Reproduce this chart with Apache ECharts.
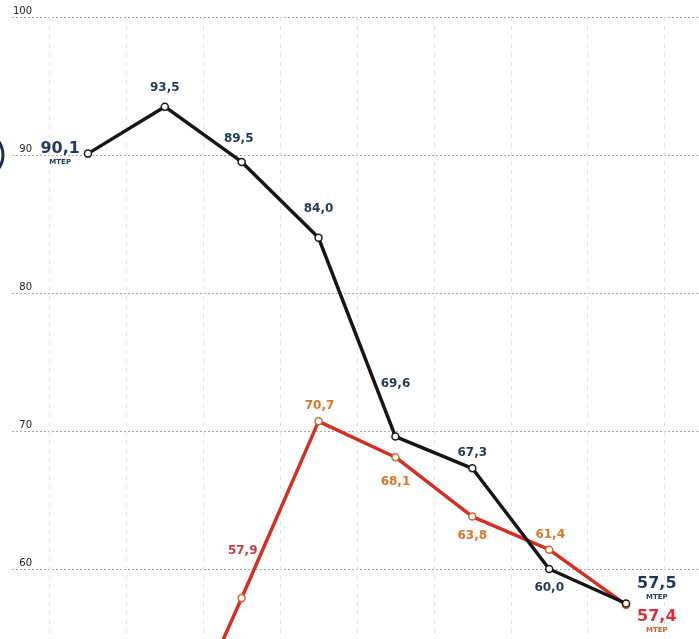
<!DOCTYPE html>
<html>
<head>
<meta charset="utf-8">
<script src="https://cdn.jsdelivr.net/npm/echarts@6/dist/echarts.min.js"></script>
<style>
html,body{margin:0;padding:0;background:#fff;}
#c{width:699px;height:639px;}
</style>
</head>
<body>
<div id="c"></div>
<script>
// ---- data ----
var categories = ['P1','P2','P3','P4','P5','P6','P7','P8'];
var blackValues = [90.1, 93.5, 89.5, 84.0, 69.6, 67.3, 60.0, 57.5];
var redValues   = [null, 45.4, 57.9, 70.7, 68.1, 63.8, 61.4, 57.4];
var yTicks = [40, 50, 60, 70, 80, 90, 100];
var unitText = 'MTEP';

// ---- label placement (style only) ----
var blackLabelPos = [
  {position:'left', distance:3, offset:[0,0], big:true},
  {position:'top', distance:9, offset:[0,0]},
  {position:'top', distance:13, offset:[-3,0]},
  {position:'top', distance:19, offset:[0,0]},
  {position:'top', distance:42, offset:[0,0]},
  {position:'top', distance:5, offset:[0,0]},
  {position:'bottom', distance:9, offset:[0,0]},
  {position:'right', distance:6, offset:[0,-15], big:true}
];
var redLabelPos = [
  null,
  null,
  {position:'top', distance:37, offset:[1,0], color:'#c83c48'},
  {position:'top', distance:5, offset:[1,0], color:'#d8762a'},
  {position:'bottom', distance:14, offset:[0,0], color:'#d8762a'},
  {position:'bottom', distance:9, offset:[0,0], color:'#d8762a'},
  {position:'top', distance:5, offset:[1,0], color:'#d8762a'},
  {position:'right', distance:6, offset:[0,17], big:true, color:'#d8323f'}
];

function fmt(v){ return v.toFixed(1).replace('.', ','); }

var FONT = 'DejaVu Sans';

function buildData(values, posArr, baseColor, unitColor){
  return values.map(function(v, i){
    if (v === null) return null;
    var p = posArr[i];
    if (!p) return {value: v, label: {show: false}};
    var col = p.color || baseColor;
    var lbl = {
      show: true,
      position: p.position,
      distance: p.distance,
      offset: p.offset,
      fontFamily: FONT
    };
    if (p.big) {
      lbl.formatter = '{n|' + fmt(v) + '}\n{u|' + unitText + '}';
      lbl.rich = {
        n: {fontSize: 16, fontWeight: 'bold', color: col, fontFamily: FONT, lineHeight: 17,
            width: 41, align: 'center'},
        u: {fontSize: 7, fontWeight: 'bold', color: unitColor || col, fontFamily: FONT, lineHeight: 10,
            width: 41, align: 'center'}
      };
    } else {
      lbl.formatter = fmt(v);
      lbl.fontSize = 12;
      lbl.fontWeight = 'bold';
      lbl.color = col;
    }
    return {value: v, label: lbl};
  });
}

var chart = echarts.init(document.getElementById('c'), null, {renderer: 'canvas'});

var option = {
  backgroundColor: '#ffffff',
  animation: false,
  grid: [
    {left: 12, right: 0, top: 17, height: 828, containLabel: false, outerBoundsMode: 'none'},
    {left: 49.5, right: 34.5, top: 17, height: 828, containLabel: false, outerBoundsMode: 'none'}
  ],
  xAxis: [
    {gridIndex: 0, type: 'value', min: 0, max: 1, show: false},
    {gridIndex: 1, type: 'category', data: categories, boundaryGap: true,
     axisLine: {show: false}, axisTick: {show: false}, axisLabel: {show: false},
     splitLine: {show: true, lineStyle: {color: '#e2e2e2', width: 1, type: [4, 5]}}}
  ],
  yAxis: [
    {gridIndex: 0, type: 'value', min: yTicks[0], max: yTicks[yTicks.length-1], interval: 10,
     axisLine: {show: false}, axisTick: {show: false},
     axisLabel: {inside: true, align: 'right', verticalAlign: 'bottom', margin: 20,
                 fontSize: 10, color: '#222', fontFamily: FONT, padding: [0,0,1,0],
                 showMinLabel: true, showMaxLabel: true},
     splitLine: {show: true, lineStyle: {color: '#a8a8a8', width: 1, type: [2, 2]}}},
    {gridIndex: 1, type: 'value', min: yTicks[0], max: yTicks[yTicks.length-1], interval: 10,
     show: false, splitLine: {show: false}}
  ],
  graphic: [
    {type: 'circle', shape: {cx: -20, cy: 155, r: 23},
     style: {fill: 'none', stroke: '#1d2f4a', lineWidth: 3}, silent: true}
  ],
  series: [
    {
      name: 'red', type: 'line', xAxisIndex: 1, yAxisIndex: 1,
      data: buildData(redValues, redLabelPos, '#d8762a', '#d0602e'),
      connectNulls: false,
      symbol: 'circle', symbolSize: 7, showAllSymbol: true,
      lineStyle: {color: '#d42f23', width: 3.5},
      itemStyle: {color: '#ffffff', borderColor: '#c86a2a', borderWidth: 1.5},
      z: 3
    },
    {
      name: 'black', type: 'line', xAxisIndex: 1, yAxisIndex: 1,
      data: buildData(blackValues, blackLabelPos, '#1f3a5c', '#1f3a5c'),
      symbol: 'circle', symbolSize: 7, showAllSymbol: true,
      lineStyle: {color: '#161616', width: 3.5},
      itemStyle: {color: '#ffffff', borderColor: '#1a1a1a', borderWidth: 1.5},
      z: 4
    }
  ]
};
chart.setOption(option);
</script>
</body>
</html>
